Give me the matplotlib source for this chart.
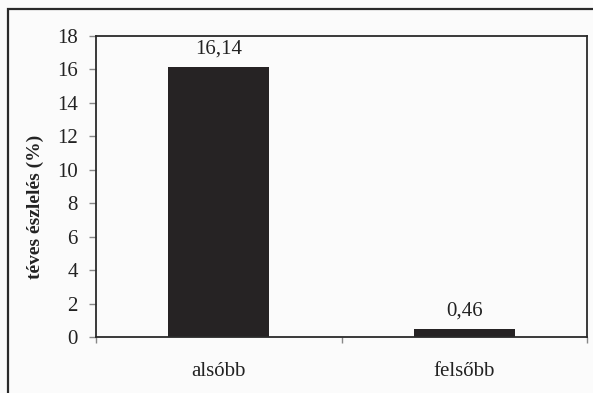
import matplotlib
matplotlib.use("Agg")
import matplotlib.pyplot as plt
from matplotlib.patches import Rectangle
from matplotlib.ticker import FixedLocator


# ---------------------------------------------------
# Data
# ---------------------------------------------------

categories = ["alsóbb", "felsőbb"]
values = [16.14, 0.46]
value_labels = ["16,14", "0,46"]
y_ticks = [0, 2, 4, 6, 8, 10, 12, 14, 16, 18]


# ---------------------------------------------------
# Figure setup
# ---------------------------------------------------

plt.rcParams["font.family"] = ["Liberation Serif", "DejaVu Serif"]

line_col = "#2a2a2a"
bar_col = "#262324"
bg_col = "#fbfbfb"
txt_col = "#222222"

fig = plt.figure(figsize=(5.93, 3.93), dpi=100, facecolor=bg_col)
ax = fig.add_axes([96 / 593, 56 / 393, 491 / 593, 301 / 393], facecolor=bg_col)

# outer chart frame (runs off the right and bottom edges)
fig.patches.append(Rectangle((8 / 593, -0.2), 1.2, 1.2 - 9 / 393,
                             transform=fig.transFigure, fill=False,
                             edgecolor=line_col, linewidth=1.6))


# ---------------------------------------------------
# Bars
# ---------------------------------------------------

x = list(range(len(categories)))
bars = ax.bar(x, values, width=0.41, color=bar_col, zorder=2)

for xi, v, lab in zip(x, values, value_labels):
    ax.annotate(lab, (xi, v), xytext=(0, 6), textcoords="offset points",
                ha="center", va="bottom", fontsize=15, color=txt_col)


# ---------------------------------------------------
# Axes styling
# ---------------------------------------------------

ax.set_xlim(-0.5, len(categories) - 0.5)
ax.set_ylim(0, 18)
ax.set_yticks(y_ticks)
ax.set_yticklabels([str(t) for t in y_ticks])

ax.set_xticks(x)
ax.set_xticklabels(categories)
ax.xaxis.set_minor_locator(FixedLocator([-0.5, 0.5, 1.5]))
ax.tick_params(axis="x", which="major", length=0, pad=18, labelsize=15,
               labelcolor=txt_col)
ax.tick_params(axis="x", which="minor", length=4, width=1, color="#888888",
               direction="out")
ax.tick_params(axis="y", length=5, width=1, color="#888888", pad=8,
               labelsize=15, labelcolor=txt_col)

for side in ["left", "right", "top", "bottom"]:
    ax.spines[side].set_color(line_col)
    ax.spines[side].set_linewidth(1.3)

fig.text(35 / 593, 186.5 / 393, "téves észlelés (%)", rotation=90,
         ha="center", va="center", fontsize=14, fontweight="bold",
         color=txt_col)

fig.savefig("out.png", dpi=100, facecolor=bg_col)
